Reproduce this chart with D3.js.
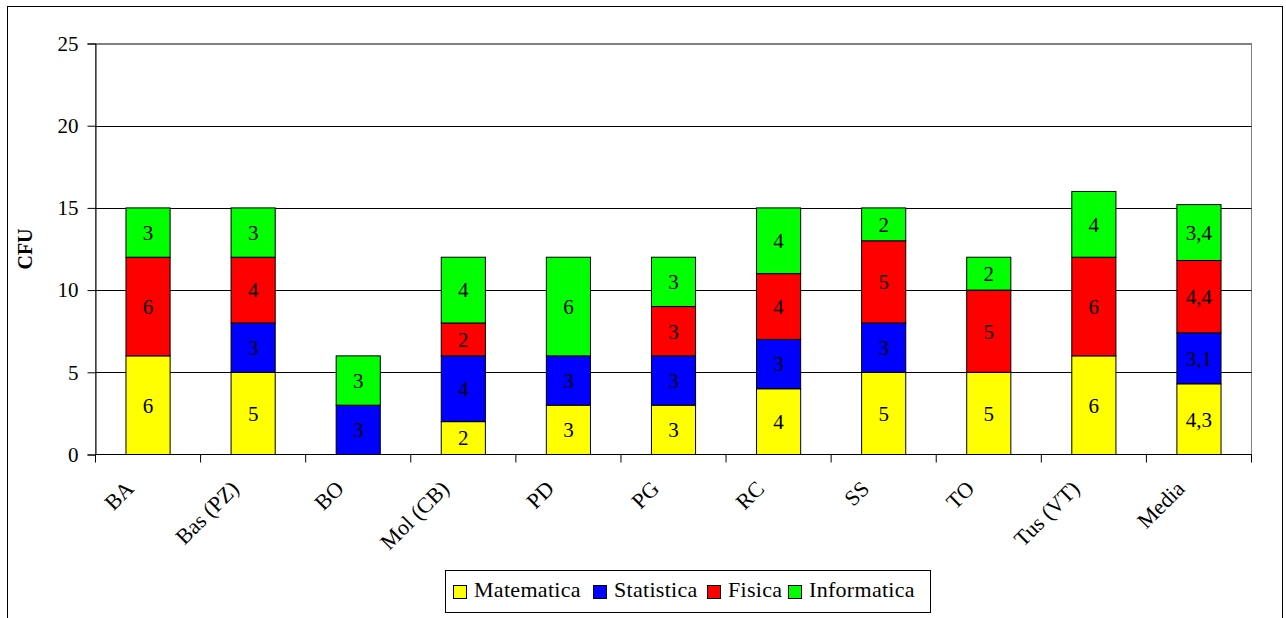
<!DOCTYPE html>
<html>
<head>
<meta charset="utf-8">
<script src="https://cdn.jsdelivr.net/npm/d3@7"></script>
<style>
  html, body { margin: 0; padding: 0; background: #fff; }
  svg { display: block; }
  text { font-family: "Liberation Serif", "Times New Roman", serif; fill: #000; }
</style>
</head>
<body>
<svg id="chart" width="1286" height="618"></svg>
<script>
// CFU per sede, split by subject area
const sedi = ["BA", "Bas (PZ)", "BO", "Mol (CB)", "PD", "PG", "RC", "SS", "TO", "Tus (VT)", "Media"];
const matematica  = [6, 5, 0, 2, 3, 3, 4, 5, 5, 6, 4.3];
const statistica  = [0, 3, 3, 4, 3, 3, 3, 3, 0, 0, 3.1];
const fisica      = [6, 4, 0, 2, 0, 3, 4, 5, 5, 6, 4.4];
const informatica = [3, 3, 3, 4, 6, 3, 4, 2, 2, 4, 3.4];
const materie = ["Matematica", "Statistica", "Fisica", "Informatica"];
const colori  = ["#ffff00", "#0000ff", "#ff0000", "#00ff00"];
const yTicks  = [0, 5, 10, 15, 20, 25];

const serie = [matematica, statistica, fisica, informatica];
const rows = sedi.map((s, i) => {
  const r = { sede: s };
  materie.forEach((m, k) => { r[m] = serie[k][i]; });
  return r;
});

const svg = d3.select("#chart");
const plot = { left: 95.5, right: 1251.5, top: 43.5, bottom: 454.5 };

// outer frame
svg.append("rect")
  .attr("x", 7.5).attr("y", 6.5)
  .attr("width", 1275).attr("height", 640)
  .attr("fill", "#fff").attr("stroke", "#000").attr("stroke-width", 1);

const x = d3.scaleBand().domain(sedi).range([plot.left, plot.right]).paddingInner(0).paddingOuter(0);
const y = d3.scaleLinear().domain([0, 25]).range([plot.bottom, plot.top]);

// plot area border
svg.append("rect")
  .attr("x", plot.left).attr("y", plot.top)
  .attr("width", plot.right - plot.left).attr("height", plot.bottom - plot.top)
  .attr("fill", "none").attr("stroke", "#808080").attr("stroke-width", 1);

// horizontal gridlines
svg.append("g")
  .selectAll("line")
  .data(yTicks.filter(t => t > 0))
  .join("line")
  .attr("x1", plot.left).attr("x2", plot.right)
  .attr("y1", d => Math.round(y(d)) + 0.5).attr("y2", d => Math.round(y(d)) + 0.5)
  .attr("stroke", d => d === 25 ? "#808080" : "#000").attr("stroke-width", 1);

// stacked bars
const stack = d3.stack().keys(materie)(rows);
const barW = x.bandwidth() * 0.42;

const layers = svg.append("g").selectAll("g")
  .data(stack)
  .join("g")
  .attr("fill", (d, i) => colori[i]);

layers.selectAll("rect")
  .data(d => d.filter(p => p[1] - p[0] > 0))
  .join("rect")
  .attr("x", d => x(d.data.sede) + (x.bandwidth() - barW) / 2)
  .attr("y", d => y(d[1]))
  .attr("width", barW)
  .attr("height", d => y(d[0]) - y(d[1]))
  .attr("stroke", "#000").attr("stroke-width", 1);

// segment value labels
const fmt = v => String(v).replace(".", ",");
layers.selectAll("text")
  .data(d => d.filter(p => p[1] - p[0] > 0).map(p => ({ p, key: d.key })))
  .join("text")
  .attr("x", d => x(d.p.data.sede) + x.bandwidth() / 2)
  .attr("y", d => (y(d.p[0]) + y(d.p[1])) / 2)
  .attr("dy", "0.35em")
  .attr("text-anchor", "middle")
  .style("font-size", "21px")
  .text(d => fmt(d.p.data[d.key]));

// y axis
const yAxis = d3.axisLeft(y).tickValues(yTicks).tickSize(8).tickPadding(9).tickFormat(d3.format("d"));
const gy = svg.append("g").attr("transform", `translate(${plot.left},0)`).call(yAxis);
gy.select(".domain").attr("stroke", "#000");
gy.selectAll(".tick line").attr("stroke", "#000");
gy.selectAll(".tick text")
  .style("font-size", "21px")
  .style("font-family", "'Liberation Serif', serif")
  .attr("fill", "#000");

// x axis with ticks at category boundaries
const gx = svg.append("g").attr("transform", `translate(0,${plot.bottom})`);
gx.append("line")
  .attr("x1", plot.left).attr("x2", plot.right)
  .attr("stroke", "#000");
const bounds = sedi.map(s => x(s)).concat([plot.right]);
gx.selectAll("line.tick")
  .data(bounds)
  .join("line")
  .attr("class", "tick")
  .attr("x1", d => d).attr("x2", d => d)
  .attr("y1", 0).attr("y2", 8)
  .attr("stroke", "#000");

gx.selectAll("text")
  .data(sedi)
  .join("text")
  .attr("transform", d => `translate(${x(d) + x.bandwidth() / 2 - 13},${490 - plot.bottom}) rotate(-45)`)
  .attr("text-anchor", "end")
  .style("font-size", "22px")
  .text(d => d);

// y axis title
svg.append("text")
  .attr("transform", `translate(32,${(plot.top + plot.bottom) / 2}) rotate(-90)`)
  .attr("text-anchor", "middle")
  .style("font-size", "20px")
  .style("font-weight", "bold")
  .text("CFU");

// legend
const legend = svg.append("g");
legend.append("rect")
  .attr("x", 445.5).attr("y", 570.5)
  .attr("width", 485).attr("height", 42)
  .attr("fill", "#fff").attr("stroke", "#000");

const legendX = [453, 593, 707, 788];
const items = legend.selectAll("g.item")
  .data(materie)
  .join("g")
  .attr("class", "item")
  .attr("transform", (d, i) => `translate(${legendX[i]},0)`);
items.append("rect")
  .attr("x", 0.5).attr("y", 585.5)
  .attr("width", 13).attr("height", 13)
  .attr("fill", (d, i) => colori[i])
  .attr("stroke", "#000");
items.append("text")
  .attr("x", 21).attr("y", 597)
  .style("font-size", "22px")
  .style("letter-spacing", "0.3px")
  .text(d => d);
</script>
</body>
</html>
